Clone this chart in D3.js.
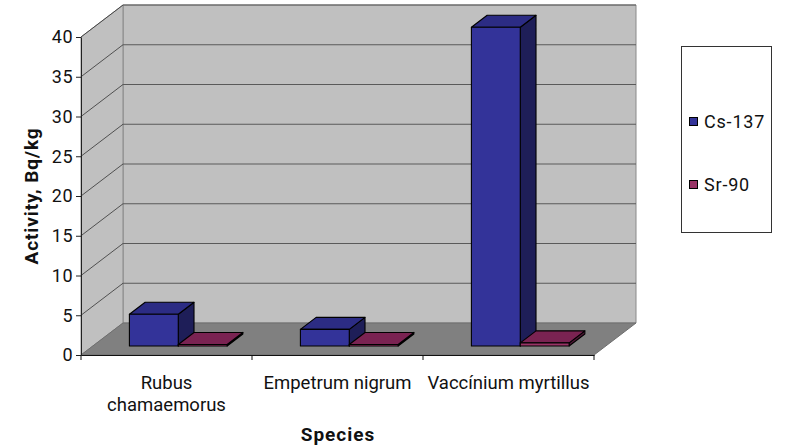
<!DOCTYPE html>
<html>
<head>
<meta charset="utf-8">
<script src="https://cdn.jsdelivr.net/npm/d3@7/dist/d3.min.js"></script>
<style>
  html, body { margin: 0; padding: 0; background: #fff; }
  svg { display: block; font-family: Roboto, "Liberation Sans", Arial, sans-serif; }
</style>
</head>
<body>
<svg id="chart" width="786" height="446"></svg>
<script>
// Species sampled and their measured activities (Bq/kg)
const categories = ["Rubus chamaemorus", "Empetrum nigrum", "Vaccínium myrtillus"];
const seriesNames = ["Cs-137", "Sr-90"];
const cs137 = [4.0, 2.1, 40.1];
const sr90 = [0.2, 0.2, 0.4];
const yTicks = [0, 5, 10, 15, 20, 25, 30, 35, 40];

const seriesValues = [cs137, sr90];
const faceColors = {
  "Cs-137": { front: "#333399", top: "#2c2c84", side: "#1e1e58" },
  "Sr-90":  { front: "#993366", top: "#7a2352", side: "#4f1735" }
};

(function () {
const svg = d3.select("#chart");
const FONT = "Roboto, 'Liberation Sans', sans-serif";

// Plot box (front plane) and oblique depth offset
const plotLeft = 81, plotRight = 594, plotTop = 37, plotBottom = 355;
const DX = 42, DY = 32;
const z0 = 0.28, z1 = 0.655;   // depth slab occupied by the columns

const y = d3.scaleLinear().domain([0, 40]).range([plotBottom, plotTop]);
const x = d3.scaleBand().domain(categories).range([plotLeft, plotRight]).padding(0);
const xs = d3.scaleBand().domain(seriesNames).range([0, x.bandwidth()])
  .paddingInner(0).paddingOuter(0.75);

const P = (px, v, z) => [px + DX * z, y(v) - DY * z];
const poly = pts => "M" + pts.map(p => p.join(",")).join("L") + "Z";

// Walls and floor
const walls = svg.append("g");
walls.append("path")   // back wall
  .attr("d", poly([P(plotLeft, 0, 1), P(plotLeft, 40, 1), P(plotRight, 40, 1), P(plotRight, 0, 1)]))
  .attr("fill", "#c0c0c0").attr("stroke", "#8a8a8a").attr("stroke-width", 1);
walls.append("path")   // side wall
  .attr("d", poly([P(plotLeft, 0, 0), P(plotLeft, 40, 0), P(plotLeft, 40, 1), P(plotLeft, 0, 1)]))
  .attr("fill", "#c0c0c0").attr("stroke", "#8a8a8a").attr("stroke-width", 1);
walls.append("path")   // floor
  .attr("d", poly([P(plotLeft, 0, 0), P(plotLeft, 0, 1), P(plotRight, 0, 1), P(plotRight, 0, 0)]))
  .attr("fill", "#808080").attr("stroke", "#6e6e6e").attr("stroke-width", 1);

// Gridlines on back and side walls
const grid = svg.append("g");
yTicks.filter(t => t > 0).forEach(t => {
  const b0 = P(plotLeft, t, 1), b1 = P(plotRight, t, 1), s0 = P(plotLeft, t, 0);
  grid.append("line").attr("x1", b0[0]).attr("y1", b0[1]).attr("x2", b1[0]).attr("y2", b1[1])
    .attr("stroke", "#5a5a5a").attr("stroke-width", 1.2);
  grid.append("line").attr("x1", s0[0]).attr("y1", s0[1]).attr("x2", b0[0]).attr("y2", b0[1])
    .attr("stroke", "#333").attr("stroke-width", 0.8);
});

// Columns: drawn left to right so right faces sit over neighbours correctly
const bars = svg.append("g").attr("stroke", "#000").attr("stroke-width", 1.1)
  .attr("stroke-linejoin", "round");
categories.forEach((c, i) => {
  seriesNames.forEach((s, k) => {
    const v = seriesValues[k][i];
    const xa = x(c) + xs(s), xb = xa + xs.bandwidth();
    const col = faceColors[s];
    bars.append("path").attr("fill", col.side)
      .attr("d", poly([P(xb, 0, z0), P(xb, v, z0), P(xb, v, z1), P(xb, 0, z1)]));
    bars.append("path").attr("fill", col.top)
      .attr("d", poly([P(xa, v, z0), P(xa, v, z1), P(xb, v, z1), P(xb, v, z0)]));
    bars.append("path").attr("fill", col.front)
      .attr("d", poly([P(xa, 0, z0), P(xa, v, z0), P(xb, v, z0), P(xb, 0, z0)]));
  });
});

// Value axis
const yAxis = svg.append("g").attr("transform", `translate(${plotLeft},0)`)
  .call(d3.axisLeft(y).tickValues(yTicks).tickSize(5).tickSizeOuter(0).tickPadding(3));
yAxis.select(".domain").attr("stroke", "#222");
yAxis.selectAll(".tick line").attr("stroke", "#222");
yAxis.selectAll("text").attr("font-size", 18).attr("letter-spacing", 0.5)
  .attr("fill", "#111").attr("font-family", FONT);

// Category axis: line with ticks at category boundaries
const xAxis = svg.append("g").attr("transform", `translate(0,${plotBottom})`)
  .call(d3.axisBottom(x).tickSize(0).tickPadding(21));
xAxis.select(".domain").attr("stroke", "#111").attr("stroke-width", 1.2);
const bounds = categories.map(c => x(c)).concat([plotRight]);
xAxis.selectAll(".bound").data(bounds).join("line").attr("class", "bound")
  .attr("x1", d => d).attr("x2", d => d).attr("y1", 0).attr("y2", 5).attr("stroke", "#111");
xAxis.selectAll(".tick text").attr("font-size", 18.5).attr("fill", "#111")
  .attr("font-family", FONT)
  .each(function () {
    const t = d3.select(this);
    const words = t.text().split(" ");
    if (this.getComputedTextLength() > x.bandwidth()) {
      t.text(null);
      words.forEach((w, j) => {
        t.append("tspan").attr("x", 0).attr("dy", j === 0 ? "0.71em" : "1.2em").text(w);
      });
      t.attr("dy", null);
    }
  });

// Axis titles
svg.append("text").attr("transform", "translate(38,196) rotate(-90)")
  .attr("text-anchor", "middle").attr("font-weight", "bold").attr("font-size", 19)
  .attr("letter-spacing", 0.9).attr("fill", "#111").text("Activity, Bq/kg");
svg.append("text").attr("x", 338).attr("y", 441).attr("text-anchor", "middle")
  .attr("font-weight", "bold").attr("font-size", 19).attr("letter-spacing", 1)
  .attr("fill", "#111").text("Species");

// Legend
const lg = svg.append("g");
lg.append("rect").attr("x", 681.5).attr("y", 46.5).attr("width", 90).attr("height", 186)
  .attr("fill", "#fff").attr("stroke", "#333");
const ly = d3.scalePoint().domain(seriesNames).range([122, 185]);
seriesNames.forEach(s => {
  lg.append("rect").attr("x", 689.5).attr("y", ly(s) - 4.5).attr("width", 8).attr("height", 8)
    .attr("fill", faceColors[s].front).attr("stroke", "#000");
  lg.append("text").attr("x", 704).attr("y", ly(s)).attr("dy", "0.35em")
    .attr("font-size", 18).attr("letter-spacing", 0.8).attr("fill", "#111").text(s);
});
})();
</script>
</body>
</html>
